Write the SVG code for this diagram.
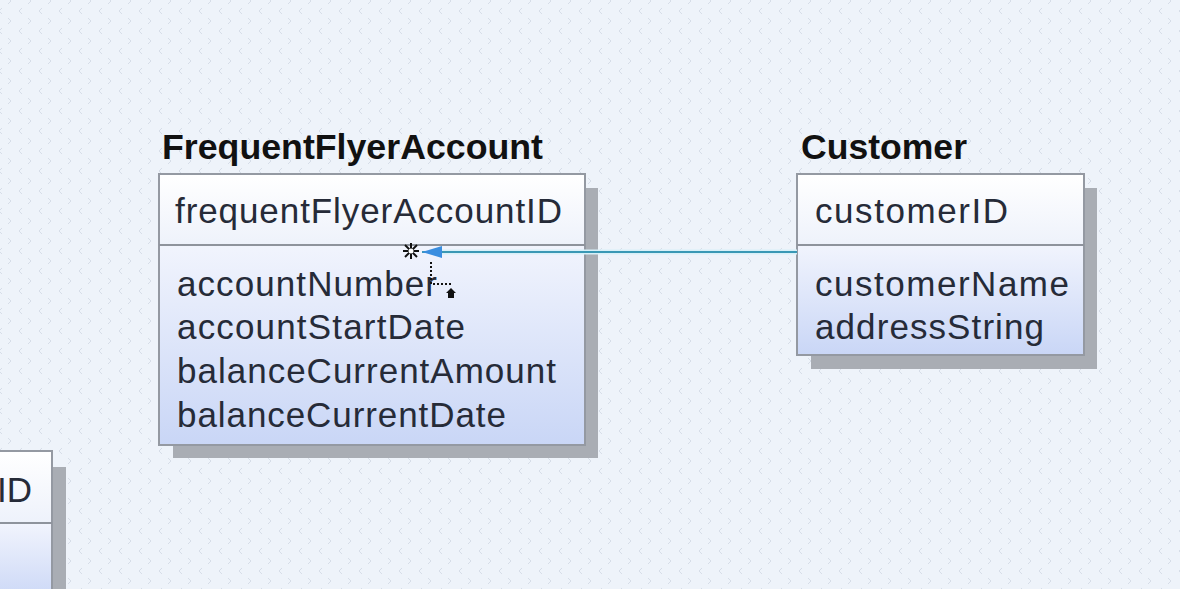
<svg xmlns="http://www.w3.org/2000/svg" width="1180" height="589" viewBox="0 0 1180 589">
<defs>
<pattern id="bg" width="20" height="20" patternUnits="userSpaceOnUse">
<rect width="20" height="20" fill="#EEF3FA"/>
<path d="M8,-2 L11,1 L8,4 M8,18 L11,21 L8,24" fill="none" stroke="#D6DDE8" stroke-width="1"/>
<path d="M2,8 L-1,11 L2,14 M22,8 L19,11 L22,14" fill="none" stroke="#D6DDE8" stroke-width="1"/>
</pattern>
<linearGradient id="topg" x1="0" y1="0" x2="0" y2="1">
<stop offset="0" stop-color="#FFFFFF"/>
<stop offset="1" stop-color="#EEF2FB"/>
</linearGradient>
<linearGradient id="botg" x1="0" y1="0" x2="0" y2="1">
<stop offset="0" stop-color="#F1F4FD"/>
<stop offset="1" stop-color="#C9D6F6"/>
</linearGradient>
<marker id="arr" viewBox="0 0 20 12" refX="20" refY="6" markerWidth="20" markerHeight="12" markerUnits="userSpaceOnUse" orient="auto">
<path d="M0,0 L20,6 L0,12 Z" fill="#3A8EE0"/>
</marker>
<style>
.shadow{fill:#A9ADB4}
.border{fill:none;stroke:#9499A2;stroke-width:2}
.div{stroke:#8E939C;stroke-width:2}
.title{font-family:"Liberation Sans",Arial,sans-serif;font-size:35px;font-weight:bold;fill:#111111}
.attr{font-family:"Liberation Sans",Arial,sans-serif;font-size:35px;fill:#262B38}
</style>
</defs>
<rect width="1180" height="589" fill="url(#bg)"/>

<g id="node-partial">
<rect class="shadow" x="-20" y="467" width="86" height="140"/>
<rect x="-20" y="451" width="72" height="72" fill="url(#topg)"/>
<rect x="-20" y="523" width="72" height="80" fill="url(#botg)"/>
<rect class="border" x="-20" y="451" width="72" height="160"/>
<line class="div" x1="-20" y1="523" x2="52" y2="523"/>
<text class="attr" x="-3" y="502">ID</text>
</g>

<g id="node-frequentflyeraccount">
<text class="title" x="162" y="159" textLength="381" lengthAdjust="spacingAndGlyphs">FrequentFlyerAccount</text>
<rect class="shadow" x="173" y="188" width="425" height="270"/>
<rect x="159" y="174" width="426" height="71" fill="url(#topg)"/>
<rect x="159" y="245" width="426" height="200" fill="url(#botg)"/>
<rect class="border" x="159" y="174" width="426" height="271"/>
<line class="div" x1="159" y1="245" x2="585" y2="245"/>
<text class="attr" x="175" y="223" textLength="387" lengthAdjust="spacing">frequentFlyerAccountID</text>
<text class="attr" x="177" y="296" textLength="260" lengthAdjust="spacing">accountNumber</text>
<text class="attr" x="177" y="339" textLength="288" lengthAdjust="spacing">accountStartDate</text>
<text class="attr" x="177" y="383" textLength="379" lengthAdjust="spacing">balanceCurrentAmount</text>
<text class="attr" x="177" y="427" textLength="329" lengthAdjust="spacing">balanceCurrentDate</text>
</g>

<g id="node-customer">
<text class="title" x="801" y="159" textLength="166" lengthAdjust="spacingAndGlyphs">Customer</text>
<rect class="shadow" x="811" y="188" width="286" height="181"/>
<rect x="797" y="174" width="287" height="71" fill="url(#topg)"/>
<rect x="797" y="245" width="287" height="110" fill="url(#botg)"/>
<rect class="border" x="797" y="174" width="287" height="181"/>
<line class="div" x1="797" y1="245" x2="1084" y2="245"/>
<text class="attr" x="815" y="223" textLength="193" lengthAdjust="spacing">customerID</text>
<text class="attr" x="815" y="296" textLength="254" lengthAdjust="spacing">customerName</text>
<text class="attr" x="815" y="339" textLength="229" lengthAdjust="spacing">addressString</text>
</g>

<g id="connectors">
<line x1="797" y1="252" x2="438" y2="252" stroke="#D8F0F8" stroke-width="5"/>
<line x1="797" y1="252" x2="422" y2="252" stroke="#3A98B5" stroke-width="2" marker-end="url(#arr)"/>
<g stroke="#111111" stroke-width="2">
<line x1="403" y1="251" x2="419" y2="251"/>
<line x1="411" y1="243" x2="411" y2="259"/>
<line x1="405" y1="245" x2="417" y2="257"/>
<line x1="417" y1="245" x2="405" y2="257"/>
</g>
<circle cx="411" cy="251" r="2.5" fill="#FFFFFF"/>
<path d="M431,262 L431,284 L452,284" fill="none" stroke="#111111" stroke-width="2" stroke-dasharray="2,2"/>
<path d="M451,288 L456,293 L454,293 L454,298 L448,298 L448,293 L446,293 Z" fill="#111111"/>
</g>
</svg>
